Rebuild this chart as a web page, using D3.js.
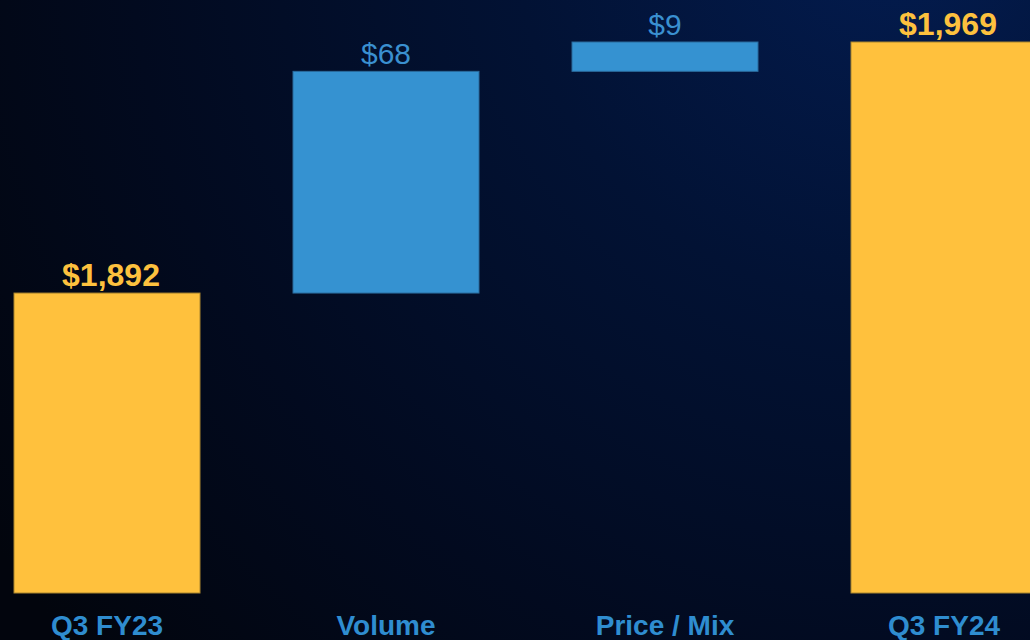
<!DOCTYPE html>
<html>
<head>
<meta charset="utf-8">
<script src="https://cdn.jsdelivr.net/npm/d3@7"></script>
<style>
  html, body { margin: 0; padding: 0; background: #020610; }
  svg { display: block; }
</style>
</head>
<body>
<svg id="chart"></svg>
<script>
const width = 1030
const height = 640

// waterfall data
const categories = ["Q3 FY23", "Volume", "Price / Mix", "Q3 FY24"]
const values = [1892, 68, 9, 1969]
const kinds = ["total", "delta", "delta", "total"]
const valueLabels = ["$1,892", "$68", "$9", "$1,969"]

const svg = d3.select("#chart")
            .attr("width", width)
            .attr("height", height)

// background glow, bluer at top right
const defs = svg.append("defs")
const grad = defs.append("radialGradient")
            .attr("id", "bg")
            .attr("gradientUnits", "userSpaceOnUse")
            .attr("cx", 900).attr("cy", -80)
            .attr("r", 1100)
grad.append("stop").attr("offset", "0%").attr("stop-color", "#031c50")
grad.append("stop").attr("offset", "35%").attr("stop-color", "#021234")
grad.append("stop").attr("offset", "70%").attr("stop-color", "#020a1f")
grad.append("stop").attr("offset", "100%").attr("stop-color", "#02050d")

svg.append("rect")
   .attr("width", width)
   .attr("height", height)
   .attr("fill", "url(#bg)")

// build start/end for each bar
let running = 0
const bars = categories.map(function(c, i) {
    let start, end
    if (kinds[i] === "total") {
        start = 1800  // axis floor (chart is not zero based)
        end = values[i]
        running = values[i]
    } else {
        start = running
        end = running + values[i]
        running = end
    }
    return { name: c, start: start, end: end, kind: kinds[i], label: valueLabels[i] }
})

const x = d3.scaleBand()
            .domain(categories)
            .range([14, 1037])
            .paddingInner(1 / 3)
            .paddingOuter(0)

const y = d3.scaleLinear()
            .domain([1800, 1969])
            .range([593, 42])

const colors = { total: "#ffc13d", delta: "#3592d1" }
const strokes = { total: "#a9852e", delta: "#2a6a9c" }

svg.selectAll("rect.bar")
   .data(bars)
   .enter()
   .append("rect")
   .attr("class", "bar")
   .attr("x", d => x(d.name))
   .attr("width", x.bandwidth())
   .attr("y", d => y(Math.max(d.start, d.end)))
   .attr("height", d => Math.abs(y(d.start) - y(d.end)))
   .attr("fill", d => colors[d.kind])
   .attr("stroke", d => strokes[d.kind])
   .attr("stroke-width", 1)

// value labels above bars
svg.selectAll("text.value")
   .data(bars)
   .enter()
   .append("text")
   .attr("class", "value")
   .attr("x", d => x(d.name) + x.bandwidth() / 2 + (d.kind === "total" ? 4 : 0))
   .attr("y", d => y(Math.max(d.start, d.end)) - 7)
   .attr("text-anchor", "middle")
   .attr("font-family", "Liberation Sans, Arial, sans-serif")
   .attr("font-size", d => d.kind === "total" ? 32 : 30)
   .attr("font-weight", d => d.kind === "total" ? "bold" : "normal")
   .attr("fill", d => d.kind === "total" ? "#fdc13e" : "#3a90d0")
   .text(d => d.label)

// category axis labels
const xAxis = d3.axisBottom(x).tickSize(0).tickPadding(0)
const axisG = svg.append("g")
   .attr("transform", "translate(0, 615)")
   .call(xAxis)
axisG.select(".domain").remove()
axisG.selectAll("text")
   .attr("dy", "0.71em")
   .attr("font-family", "Liberation Sans, Arial, sans-serif")
   .attr("font-size", 28)
   .attr("font-weight", "bold")
   .attr("fill", "#2f8dd0")
</script>
</body>
</html>
